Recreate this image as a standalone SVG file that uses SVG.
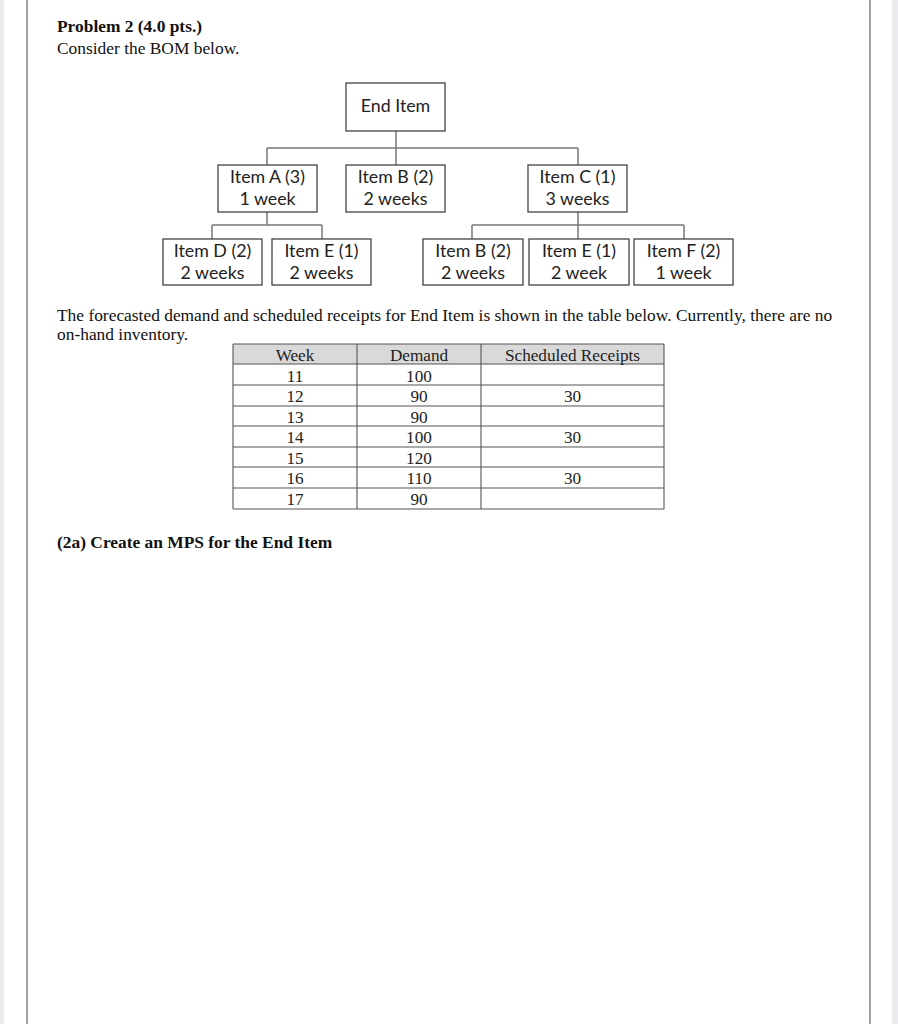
<svg xmlns="http://www.w3.org/2000/svg" width="898" height="1024" viewBox="0 0 898 1024">
<style>
.serif{font-family:"Liberation Serif","Times New Roman",serif;fill:#111;}
.b{font-weight:bold;}
.t17{font-size:17.4px;}
.tbl{font-family:"Liberation Serif","Times New Roman",serif;font-size:17.2px;fill:#222;text-anchor:middle;}
.box rect{fill:#fff;stroke:#444;stroke-width:1.3;}
.box text{font-family:Lato,"Open Sans","Liberation Sans",sans-serif;font-size:17.8px;fill:#222;text-anchor:middle;}
.conn line{stroke:#777;stroke-width:1.5;}
.grid line{stroke:#555;stroke-width:1.1;}
</style>
<rect x="0" y="0" width="898" height="1024" fill="#ffffff"/>
<rect x="0" y="0" width="4" height="1024" fill="#e9e9ee"/>
<rect x="892" y="0" width="6" height="1024" fill="#ececf0"/>
<line x1="27" y1="0" x2="27" y2="1024" stroke="#8a8a8a" stroke-width="1.6"/>
<line x1="870" y1="0" x2="870" y2="1024" stroke="#8a8a8a" stroke-width="1.6"/>

<text class="serif b t17" x="57" y="32">Problem 2 (4.0 pts.)</text>
<text class="serif t17" x="57" y="54">Consider the BOM below.</text>

<g id="connectors" class="conn">
<line x1="396" y1="131" x2="396" y2="148"/>
<line x1="267" y1="148" x2="578" y2="148"/>
<line x1="267" y1="148" x2="267" y2="165"/>
<line x1="396" y1="148" x2="396" y2="165"/>
<line x1="578" y1="148" x2="578" y2="165"/>
<line x1="267" y1="212" x2="267" y2="225"/>
<line x1="212" y1="225" x2="322" y2="225"/>
<line x1="212" y1="225" x2="212" y2="239"/>
<line x1="322" y1="225" x2="322" y2="239"/>
<line x1="578" y1="212" x2="578" y2="239"/>
<line x1="472" y1="225" x2="684" y2="225"/>
<line x1="472" y1="225" x2="472" y2="239"/>
<line x1="684" y1="225" x2="684" y2="239"/>
</g>

<g id="end-item" class="box"><rect x="346" y="83" width="99" height="48"/><text x="395.5" y="112">End Item</text></g>
<g id="item-a" class="box"><rect x="218" y="165" width="99" height="47"/><text x="267.5" y="183">Item A (3)</text><text x="267.5" y="205">1 week</text></g>
<g id="item-b" class="box"><rect x="346" y="165" width="99" height="47"/><text x="395.5" y="183">Item B (2)</text><text x="395.5" y="205">2 weeks</text></g>
<g id="item-c" class="box"><rect x="528" y="165" width="99" height="47"/><text x="577.5" y="183">Item C (1)</text><text x="577.5" y="205">3 weeks</text></g>
<g id="item-d" class="box"><rect x="163" y="239" width="99" height="46"/><text x="212.5" y="257">Item D (2)</text><text x="212.5" y="279">2 weeks</text></g>
<g id="item-e1" class="box"><rect x="272" y="239" width="99" height="46"/><text x="321.5" y="257">Item E (1)</text><text x="321.5" y="279">2 weeks</text></g>
<g id="item-b2" class="box"><rect x="423" y="239" width="100" height="46"/><text x="473" y="257">Item B (2)</text><text x="473" y="279">2 weeks</text></g>
<g id="item-e2" class="box"><rect x="529" y="239" width="100" height="46"/><text x="579" y="257">Item E (1)</text><text x="579" y="279">2 week</text></g>
<g id="item-f" class="box"><rect x="634" y="239" width="99" height="46"/><text x="683.5" y="257">Item F (2)</text><text x="683.5" y="279">1 week</text></g>

<text class="serif t17" x="57" y="321">The forecasted demand and scheduled receipts for End Item is shown in the table below. Currently, there are no</text>
<text class="serif t17" x="57" y="340">on-hand inventory.</text>

<g id="table">
<rect x="233" y="344" width="431" height="20" fill="#d9d9d9"/>
<g class="grid">
<line x1="233" y1="344" x2="664" y2="344"/>
<line x1="233" y1="364" x2="664" y2="364"/>
<line x1="233" y1="385" x2="664" y2="385"/>
<line x1="233" y1="406" x2="664" y2="406"/>
<line x1="233" y1="426" x2="664" y2="426"/>
<line x1="233" y1="447" x2="664" y2="447"/>
<line x1="233" y1="467" x2="664" y2="467"/>
<line x1="233" y1="488" x2="664" y2="488"/>
<line x1="233" y1="509" x2="664" y2="509"/>
<line x1="233" y1="344" x2="233" y2="509"/>
<line x1="357" y1="344" x2="357" y2="509"/>
<line x1="481" y1="344" x2="481" y2="509"/>
<line x1="664" y1="344" x2="664" y2="509"/>
</g>
<text class="tbl" x="295" y="361">Week</text>
<text class="tbl" x="419" y="361">Demand</text>
<text class="tbl" x="572.5" y="361">Scheduled Receipts</text>
<text class="tbl" x="295" y="382">11</text><text class="tbl" x="419" y="382">100</text>
<text class="tbl" x="295" y="402">12</text><text class="tbl" x="419" y="402">90</text><text class="tbl" x="572.5" y="402">30</text>
<text class="tbl" x="295" y="423">13</text><text class="tbl" x="419" y="423">90</text>
<text class="tbl" x="295" y="443">14</text><text class="tbl" x="419" y="443">100</text><text class="tbl" x="572.5" y="443">30</text>
<text class="tbl" x="295" y="464">15</text><text class="tbl" x="419" y="464">120</text>
<text class="tbl" x="295" y="484">16</text><text class="tbl" x="419" y="484">110</text><text class="tbl" x="572.5" y="484">30</text>
<text class="tbl" x="295" y="505">17</text><text class="tbl" x="419" y="505">90</text>
</g>

<text class="serif b t17" x="57" y="548">(2a) Create an MPS for the End Item</text>
</svg>
